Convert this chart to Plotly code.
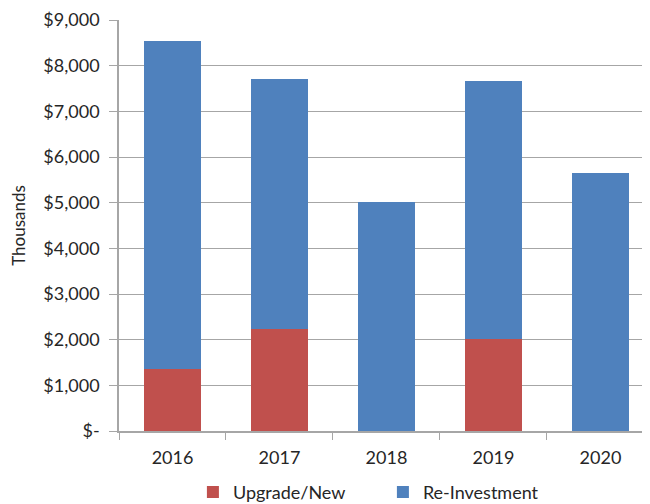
import plotly.graph_objects as go

years = ["2016", "2017", "2018", "2019", "2020"]
upgrade_new = [1350, 2230, 0, 2010, 0]
re_investment = [7200, 5480, 5010, 5660, 5660]
y_tickvals = [0, 1000, 2000, 3000, 4000, 5000, 6000, 7000, 8000, 9000]
y_ticktext = ["$-", "$1,000", "$2,000", "$3,000", "$4,000", "$5,000",
              "$6,000", "$7,000", "$8,000", "$9,000"]

font_family = "Lato, 'Open Sans', sans-serif"

fig = go.Figure()
fig.add_trace(go.Bar(x=years, y=upgrade_new, name="Upgrade/New",
                     marker=dict(color="#C0504D", line=dict(width=0)), width=0.53))
fig.add_trace(go.Bar(x=years, y=re_investment, name="Re-Investment",
                     marker=dict(color="#4F81BD", line=dict(width=0)), width=0.53))

# page has an 8px default body margin, so the figure is sized to fill the rest
fig.update_layout(
    width=642, height=496,
    barmode="stack",
    plot_bgcolor="white", paper_bgcolor="white",
    margin=dict(l=111, r=0, t=12, b=73, autoexpand=False),
    font=dict(family=font_family, size=18, color="#262626"),
    showlegend=True,
    legend=dict(orientation="h", xref="paper", x=0.497, xanchor="center",
                yref="paper", y=-0.149, yanchor="middle",
                font=dict(size=18), traceorder="normal",
                itemwidth=30, entrywidthmode="pixels", entrywidth=145),
)
fig.update_xaxes(
    type="category", range=[-0.5, 4.463],
    showline=True, linecolor="#A6A6A6", linewidth=1.5,
    ticks="outside", tickson="boundaries", ticklen=7, tickcolor="#A6A6A6",
    tickfont=dict(size=18), showgrid=False, automargin=False,
    ticklabelstandoff=10,
)
fig.update_yaxes(
    range=[0, 9000], tickvals=y_tickvals, ticktext=y_ticktext,
    showline=True, linecolor="#A6A6A6", linewidth=1.5,
    ticks="outside", ticklen=8, tickcolor="#A6A6A6",
    showgrid=True, gridcolor="#A6A6A6", gridwidth=1.2,
    tickfont=dict(size=18), automargin=False, ticklabelstandoff=6,
    title=dict(text="Thousands", font=dict(size=17), standoff=18),
    zeroline=False,
)

fig.write_html("out.html")
